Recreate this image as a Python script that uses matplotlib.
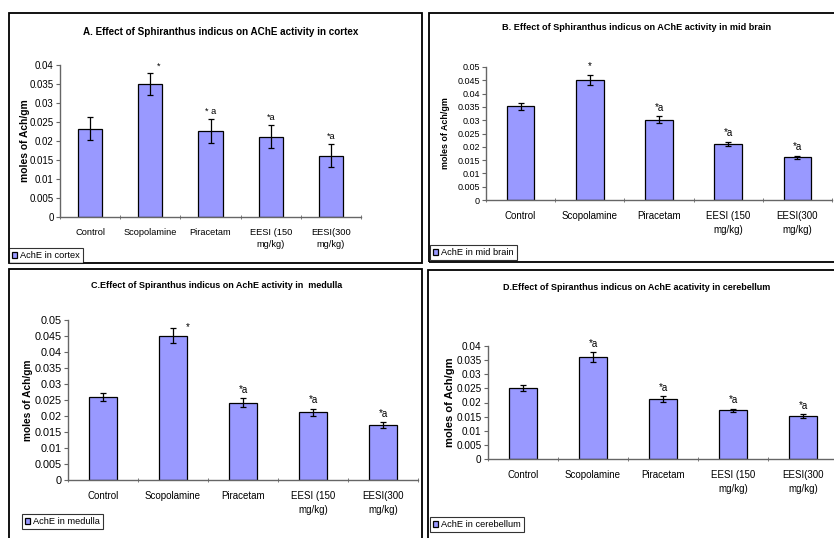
import matplotlib
matplotlib.use("Agg")
import matplotlib.pyplot as plt
from matplotlib.patches import Rectangle

plt.rcParams['font.family'] = ['Liberation Sans', 'DejaVu Sans']

categories = ["Control", "Scopolamine", "Piracetam", "EESI (150\nmg/kg)", "EESI(300\nmg/kg)"]

cortex_vals = [0.0232, 0.0350, 0.0226, 0.0211, 0.0161]
cortex_err = [0.0030, 0.0030, 0.0031, 0.0030, 0.0030]
cortex_marks = ["", "*", "* a", "*a", "*a"]

midbrain_vals = [0.0352, 0.0451, 0.0302, 0.0211, 0.0161]
midbrain_err = [0.0014, 0.0020, 0.0013, 0.0008, 0.0005]
midbrain_marks = ["", "*", "*a", "*a", "*a"]

medulla_vals = [0.0260, 0.0451, 0.0242, 0.0211, 0.0171]
medulla_err = [0.0013, 0.0024, 0.0014, 0.0011, 0.0010]
medulla_marks = ["", "*", "*a", "*a", "*a"]

cerebellum_vals = [0.0251, 0.0361, 0.0212, 0.0172, 0.0152]
cerebellum_err = [0.0012, 0.0016, 0.0010, 0.0006, 0.0006]
cerebellum_marks = ["", "*a", "*a", "*a", "*a"]

titles = [
    "A. Effect of Sphiranthus indicus on AChE activity in cortex",
    "B. Effect of Sphiranthus indicus on AChE activity in mid brain",
    "C.Effect of Spiranthus indicus on AchE activity in  medulla",
    "D.Effect of Spiranthus indicus on AchE acativity in cerebellum",
]
legend_labels = ["AchE in cortex", "AchE in mid brain", "AchE in medulla", "AchE in cerebellum"]
ytick_sets = [
    [0, 0.005, 0.01, 0.015, 0.02, 0.025, 0.03, 0.035, 0.04],
    [0, 0.005, 0.01, 0.015, 0.02, 0.025, 0.03, 0.035, 0.04, 0.045, 0.05],
    [0, 0.005, 0.01, 0.015, 0.02, 0.025, 0.03, 0.035, 0.04, 0.045, 0.05],
    [0, 0.005, 0.01, 0.015, 0.02, 0.025, 0.03, 0.035, 0.04],
]
ytick_labels = [[("%g" % t) for t in ts] for ts in ytick_sets]
ylabel_text = "moles of Ach/gm"

W, H = 834, 538
fig = plt.figure(figsize=(W / 100, H / 100), dpi=100)
fig.patch.set_facecolor("white")
renderer = fig.canvas.get_renderer()


def rect(x0, y0, x1, y1):
    return [x0 / W, 1 - y1 / H, (x1 - x0) / W, (y1 - y0) / H]


def fit_text(t, target_px, horizontal=True, max_fs=None):
    bb = t.get_window_extent(renderer=renderer)
    cur = bb.width if horizontal else bb.height
    fs = t.get_fontsize() * target_px / cur
    if max_fs is not None:
        fs = min(fs, max_fs)
    t.set_fontsize(fs)


# layout (pixels)
panels = [
    dict(frame=(9, 13, 422, 263), ax=(60, 65, 361, 217), title=(221, 32, 276), ylab=(25, 82),
         xfs=6.7, yfs=7.0, leg=(9, 263), data=(cortex_vals, cortex_err, cortex_marks)),
    dict(frame=(429, 13, 850, 262), ax=(486, 67, 832, 200), title=(637, 28, 267), ylab=(446, 71),
         xfs=7.0, yfs=6.5, leg=(430, 260), data=(midbrain_vals, midbrain_err, midbrain_marks)),
    dict(frame=(9, 269, 422, 550), ax=(68, 320, 418, 480), title=(217, 286, 253), ylab=(28, 81),
         xfs=7.0, yfs=7.8, leg=(22, 529), data=(medulla_vals, medulla_err, medulla_marks)),
    dict(frame=(428, 270, 850, 550), ax=(488, 346, 838, 459), title=(637, 288, 268), ylab=(450, 103),
         xfs=7.0, yfs=7.2, leg=(430, 532), data=(cerebellum_vals, cerebellum_err, cerebellum_marks)),
]

mark_offsets = {
    0: {1: (5, 1)},
    2: {1: (9, -3)},
}

bar_color = "#9999FF"
axis_color = "#666666"

for i, p in enumerate(panels):
    fx0, fy0, fx1, fy1 = p["frame"]
    fig.patches.append(Rectangle((fx0 / W, 1 - fy1 / H), (fx1 - fx0) / W, (fy1 - fy0) / H,
                                 transform=fig.transFigure, fill=False, edgecolor="black",
                                 linewidth=1.3, clip_on=False))
    ax = fig.add_axes(rect(*p["ax"]))
    vals, errs, marks = p["data"]
    x = list(range(len(categories)))
    bars = ax.bar(x, vals, width=0.4, color=bar_color, edgecolor="black", linewidth=0.9,
                  label=legend_labels[i], zorder=2)
    ax.errorbar(x, vals, yerr=errs, fmt="none", ecolor="black", elinewidth=0.9,
                capsize=2.5, capthick=0.9, zorder=3)
    for j, m in enumerate(marks):
        if not m:
            continue
        special = i in mark_offsets and j in mark_offsets[i]
        dx, dy = mark_offsets[i][j] if special else (0, 2.5)
        ax.annotate(m, (x[j], vals[j] + errs[j]), xytext=(dx, dy), textcoords="offset points",
                    ha="left" if special else "center", va="bottom", fontsize=p["xfs"])
    ts = ytick_sets[i]
    ax.set_ylim(0, ts[-1])
    ax.set_xlim(-0.5, len(categories) - 0.5)
    ax.set_yticks(ts)
    ax.set_yticklabels(ytick_labels[i])
    ax.set_xticks(x)
    ax.set_xticklabels(categories, linespacing=1.45)
    ax.set_xticks([k - 0.5 for k in range(len(categories) + 1)], minor=True)
    ax.tick_params(axis="x", which="major", length=0, pad=8, labelsize=p["xfs"])
    ax.tick_params(axis="x", which="minor", length=3, direction="inout", color=axis_color)
    ax.tick_params(axis="y", length=3, pad=1.5, labelsize=p["yfs"], color=axis_color)
    for s in ["top", "right"]:
        ax.spines[s].set_visible(False)
    for s in ["left", "bottom"]:
        ax.spines[s].set_color(axis_color)
        ax.spines[s].set_linewidth(1.0)
    ax.patch.set_visible(False)
    tx, ty, tw = p["title"]
    tt = fig.text(tx / W, 1 - ty / H, titles[i], ha="center", va="center", fontsize=7,
                  fontweight="bold")
    fit_text(tt, tw, True)
    ax_y0, ax_y1 = p["ax"][1], p["ax"][3]
    lx_, llen = p["ylab"]
    yl = fig.text(lx_ / W, 1 - ((ax_y0 + ax_y1) / 2) / H, ylabel_text, rotation=90,
                  ha="center", va="center", fontsize=7, fontweight="bold")
    fit_text(yl, llen, False, max_fs=8.0)
    lx, ly = p["leg"]
    leg = fig.legend(handles=[bars], labels=[legend_labels[i]], loc="lower left",
                     bbox_to_anchor=(lx / W, 1 - ly / H), bbox_transform=fig.transFigure,
                     fontsize=6.7, frameon=True, fancybox=False, borderpad=0.3,
                     handlelength=0.6, handleheight=0.6, handletextpad=0.3, borderaxespad=0)
    leg.get_frame().set_edgecolor("black")
    leg.get_frame().set_linewidth(0.8)

fig.savefig("out.png", dpi=100, facecolor="white")
